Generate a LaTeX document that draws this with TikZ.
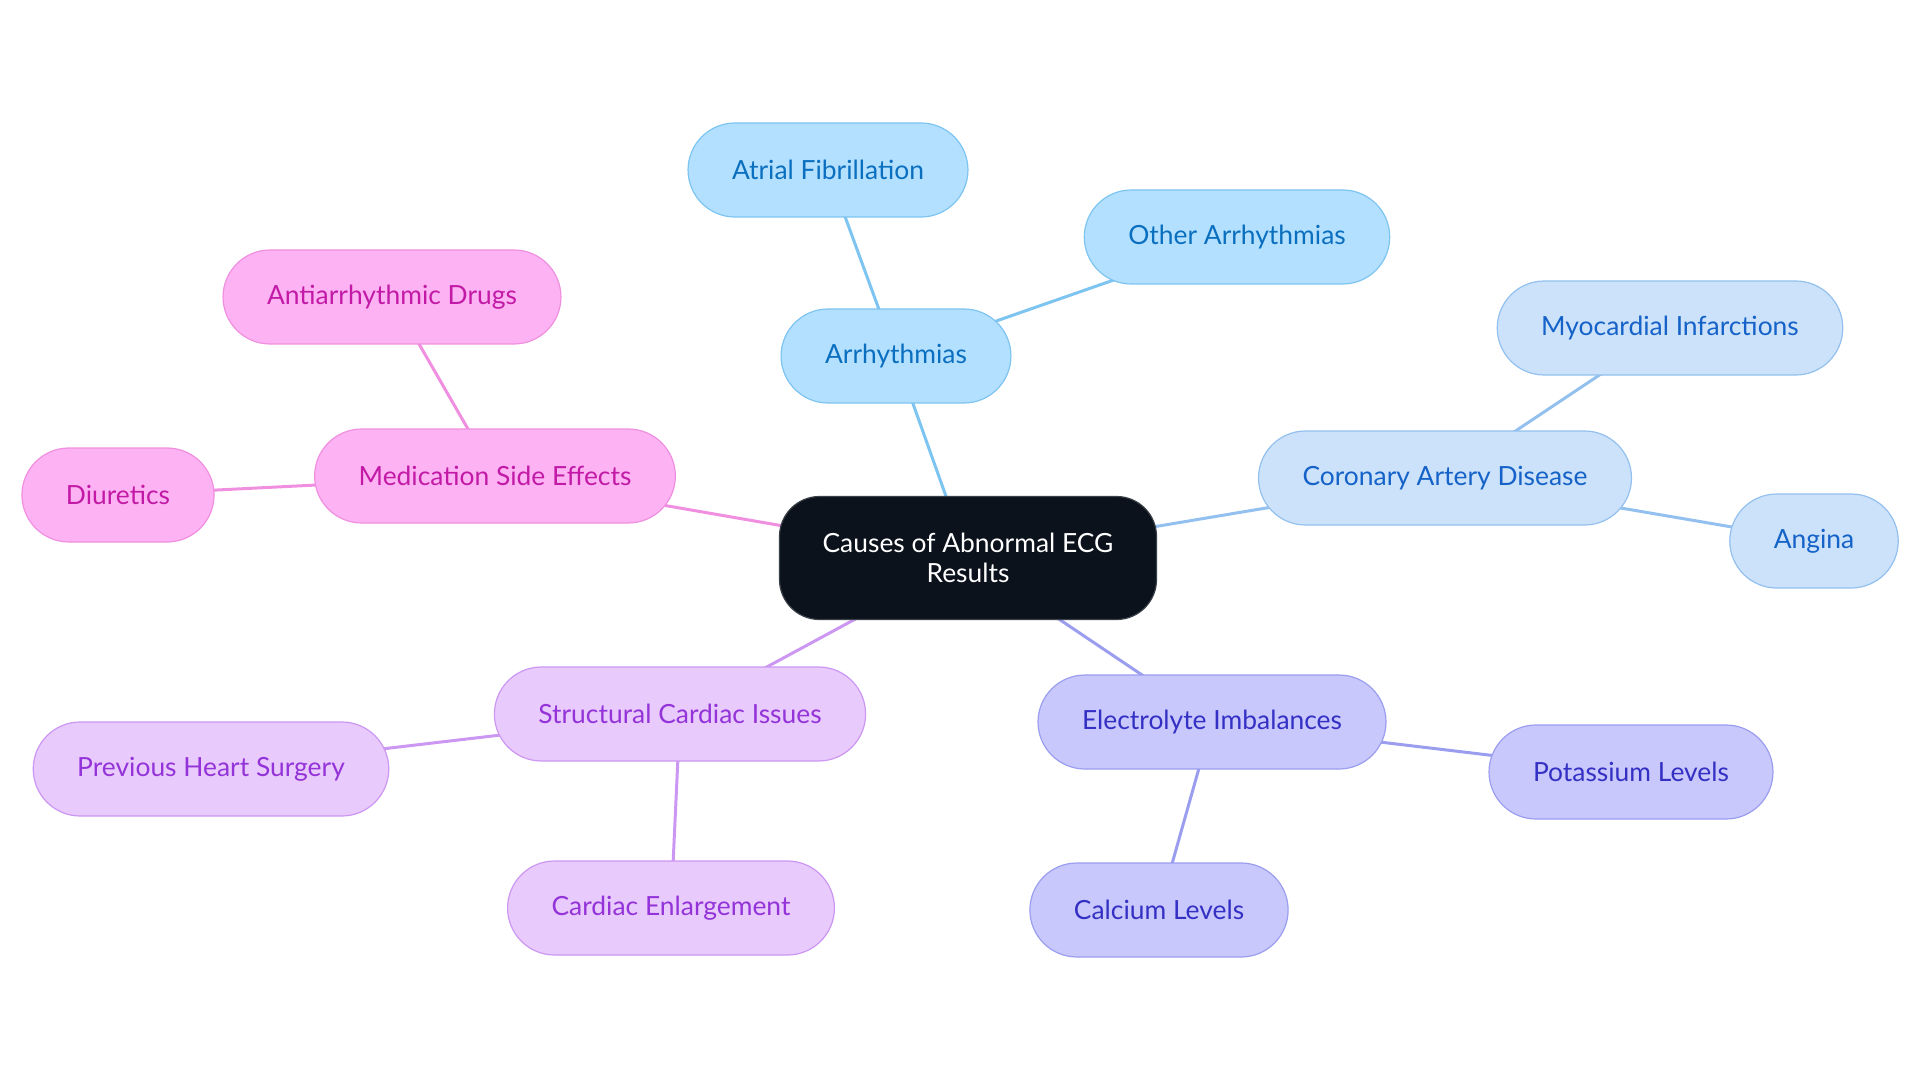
\documentclass[tikz,border=0pt]{standalone}
\usepackage{fontspec}
\setmainfont{Lato}
\usepackage{tikz}
\usetikzlibrary{backgrounds}

\definecolor{rootfill}{HTML}{0B121B}
\definecolor{rootline}{HTML}{3A4048}
\definecolor{arrfill}{HTML}{B3E0FF}
\definecolor{arrline}{HTML}{7DC4F0}
\definecolor{arrtext}{HTML}{0B6FBF}
\definecolor{cadfill}{HTML}{CCE2FA}
\definecolor{cadline}{HTML}{93C0EE}
\definecolor{cadtext}{HTML}{1562C8}
\definecolor{elefill}{HTML}{C8C8FC}
\definecolor{eleline}{HTML}{9B9EEF}
\definecolor{eletext}{HTML}{3430C4}
\definecolor{strfill}{HTML}{E8CAFD}
\definecolor{strline}{HTML}{CC97F2}
\definecolor{strtext}{HTML}{9333D8}
\definecolor{medfill}{HTML}{FDB3F3}
\definecolor{medline}{HTML}{F08FE0}
\definecolor{medtext}{HTML}{C21AA6}

\begin{document}
\begin{tikzpicture}[x=1pt, y=-1pt, font=\fontsize{26.4}{30}\selectfont,
    pill/.style={rounded corners=47pt, minimum height=94pt, inner xsep=44pt, line width=1.2pt},
    root/.style={rounded corners=40pt, minimum width=377pt, minimum height=123pt,
      fill=rootfill, draw=rootline, line width=1.2pt, text=white, align=center},
    arrnode/.style={pill, fill=arrfill, draw=arrline, text=arrtext},
    cadnode/.style={pill, fill=cadfill, draw=cadline, text=cadtext},
    elenode/.style={pill, fill=elefill, draw=eleline, text=eletext},
    strnode/.style={pill, fill=strfill, draw=strline, text=strtext},
    mednode/.style={pill, fill=medfill, draw=medline, text=medtext},
    link/.style={line width=3pt}]
  \useasboundingbox (0,0) rectangle (1920,1083);
  \node[root] (ecg) at (968,558) {Causes of Abnormal ECG\\Results};
  % arrhythmias
  \node[arrnode] (arr) at (896,356)  {Arrhythmias};
  \node[arrnode] (af)  at (828,170)  {Atrial Fibrillation};
  \node[arrnode] (oa)  at (1237,237) {Other Arrhythmias};
  % coronary artery disease
  \node[cadnode] (cad) at (1445,478) {Coronary Artery Disease};
  \node[cadnode] (mi)  at (1670,328) {Myocardial Infarctions};
  \node[cadnode] (ang) at (1814,541) {Angina};
  % electrolytes
  \node[elenode] (ele) at (1212,722) {Electrolyte Imbalances};
  \node[elenode] (pot) at (1631,772) {Potassium Levels};
  \node[elenode] (cal) at (1159,910) {Calcium Levels};
  % structural
  \node[strnode] (str) at (680,714)  {Structural Cardiac Issues};
  \node[strnode] (phs) at (211,769)  {Previous Heart Surgery};
  \node[strnode] (ce)  at (671,908)  {Cardiac Enlargement};
  % medication
  \node[mednode] (med) at (495,476)  {Medication Side Effects};
  \node[mednode] (aad) at (392,297)  {Antiarrhythmic Drugs};
  \node[mednode] (diu) at (118,495)  {Diuretics};
  \begin{pgfonlayer}{background}
    \draw[link, arrline] (ecg.center) -- (arr.center);
    \draw[link, arrline] (arr.center) -- (af.center);
    \draw[link, arrline] (arr.center) -- (oa.center);
    \draw[link, cadline] (ecg.center) -- (cad.center);
    \draw[link, cadline] (cad.center) -- (mi.center);
    \draw[link, cadline] (cad.center) -- (ang.center);
    \draw[link, eleline] (ecg.center) -- (ele.center);
    \draw[link, eleline] (ele.center) -- (pot.center);
    \draw[link, eleline] (ele.center) -- (cal.center);
    \draw[link, strline] (ecg.center) -- (str.center);
    \draw[link, strline] (str.center) -- (phs.center);
    \draw[link, strline] (str.center) -- (ce.center);
    \draw[link, medline] (ecg.center) -- (med.center);
    \draw[link, medline] (med.center) -- (aad.center);
    \draw[link, medline] (med.center) -- (diu.center);
  \end{pgfonlayer}
\end{tikzpicture}
\end{document}
